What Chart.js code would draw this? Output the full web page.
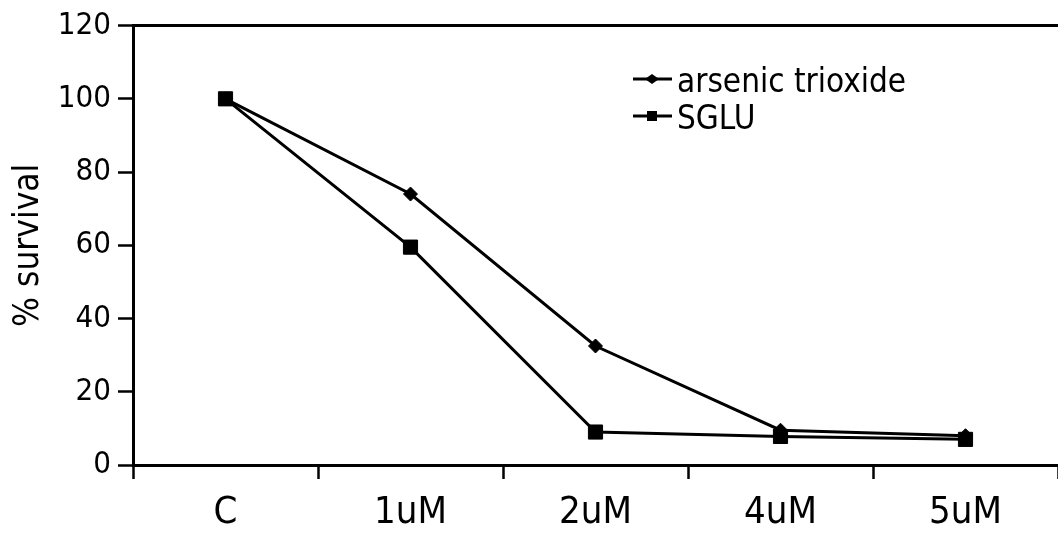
<!DOCTYPE html>
<html>
<head>
<meta charset="utf-8">
<script src="https://cdn.jsdelivr.net/npm/chart.js@4.4.1/dist/chart.umd.min.js"></script>
<style>
  html, body { margin: 0; padding: 0; background: #fff; }
  #wrap { width: 1058px; height: 540px; }
</style>
</head>
<body>
<div id="wrap"><canvas id="survivalChart" width="1058" height="540"></canvas></div>
<script>
const categories = ['C', '1uM', '2uM', '4uM', '5uM'];
const arsenicTrioxide = [100, 74, 32.5, 9.5, 8];
const sglu = [100, 59.5, 9, 7.8, 7];
const seriesNames = ['arsenic trioxide', 'SGLU'];
const yMin = 0, yMax = 120, yStep = 20;

const FONT = '"Liberation Sans Narrow", "DejaVu Sans Condensed", "Arial Narrow", sans-serif';

// legend drawn inside the plot, top right, line + marker + label
const insideLegend = {
    id: 'insideLegend',
    afterDraw(chart) {
        const ctx = chart.ctx;
        ctx.save();
        chart.data.datasets.forEach((ds, i) => {
            const y = 79 + i * 37;
            ctx.strokeStyle = '#000';
            ctx.fillStyle = '#000';
            ctx.lineWidth = 3;
            ctx.beginPath();
            ctx.moveTo(633, y);
            ctx.lineTo(672, y);
            ctx.stroke();
            ctx.beginPath();
            if (ds.pointStyle === 'rectRot') {
                ctx.moveTo(652 - 7, y);
                ctx.lineTo(652, y - 5);
                ctx.lineTo(652 + 7, y);
                ctx.lineTo(652, y + 5);
                ctx.closePath();
            } else {
                ctx.rect(652 - 5, y - 5, 10, 10);
            }
            ctx.fill();
            ctx.font = '33px ' + FONT;
            ctx.textBaseline = 'alphabetic';
            ctx.textAlign = 'left';
            ctx.fillText(ds.label, 677, y + 13);
        });
        ctx.restore();
    }
};

new Chart(document.getElementById('survivalChart'), {
    type: 'line',
    data: {
        labels: categories,
        datasets: [{
            label: seriesNames[0],
            data: arsenicTrioxide,
            borderColor: '#000',
            backgroundColor: '#000',
            borderWidth: 3,
            pointStyle: 'rectRot',
            pointRadius: 7,
            pointBorderWidth: 1,
            tension: 0,
            fill: false
        }, {
            label: seriesNames[1],
            data: sglu,
            borderColor: '#000',
            backgroundColor: '#000',
            borderWidth: 3,
            pointStyle: 'rect',
            pointRadius: 10,
            pointBorderWidth: 1,
            tension: 0,
            fill: false
        }]
    },
    options: {
        responsive: false,
        animation: false,
        layout: { autoPadding: false, padding: { top: 23, right: 0, left: 0, bottom: 0 } },
        plugins: {
            legend: { display: false },
            tooltip: { enabled: false }
        },
        scales: {
            x: {
                offset: true,
                grid: {
                    offset: true,
                    drawOnChartArea: false,
                    tickLength: 14,
                    tickColor: '#000',
                    tickWidth: 2.5
                },
                border: { color: '#000', width: 3 },
                ticks: {
                    color: '#000',
                    font: { family: FONT, size: 38 },
                    padding: 11,
                    maxRotation: 0
                },
                afterFit(scale) {
                    scale.height = 75;
                    scale.paddingLeft = 0;
                    scale.paddingRight = 0;
                }
            },
            y: {
                min: yMin,
                max: yMax,
                grid: {
                    color: c => (c.tick && c.tick.value === yMax) ? '#000' : 'rgba(0,0,0,0)',
                    lineWidth: 3,
                    tickColor: '#000',
                    tickWidth: 2.5,
                    tickLength: 15
                },
                border: { color: '#000', width: 3 },
                ticks: {
                    stepSize: yStep,
                    color: '#000',
                    font: { family: FONT, size: 31 },
                    padding: 7
                },
                title: {
                    display: true,
                    text: '% survival',
                    color: '#000',
                    font: { family: FONT, size: 35 },
                    padding: { top: 8, bottom: 0 }
                },
                afterFit(scale) { scale.width = 133; }
            }
        }
    },
    plugins: [insideLegend]
});
</script>
</body>
</html>
